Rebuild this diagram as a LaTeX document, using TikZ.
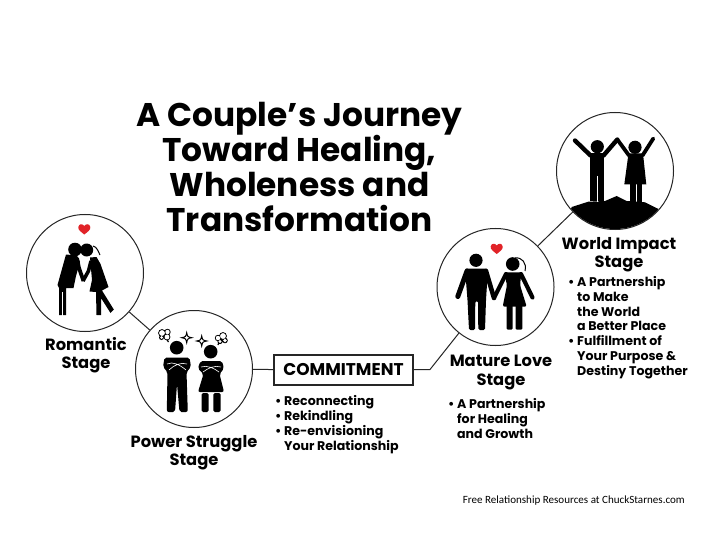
\documentclass[tikz,border=0pt]{standalone}
\usepackage{fontspec}
\setmainfont{Poppins}
\newfontfamily\calib{Carlito}
\definecolor{hrt}{RGB}{225,35,40}
\tikzset{
 ring/.style={circle,draw=black!85,line width=1pt,minimum size=117pt,inner sep=0pt,fill=white},
 link/.style={draw=black!85,line width=1pt},
 stage/.style={font=\fontsize{16.3}{18.2}\selectfont\bfseries,align=center,inner sep=0pt},
 bul/.style={font=\fontsize{12.6}{14.9}\selectfont\bfseries,align=left,inner sep=0pt,anchor=north west},
 limb/.style={line width=#1,line cap=round,line join=round,draw=black},
 limb/.default=4.6pt,
 crease/.style={draw=white,line width=.6pt},
 sketch/.style={draw=black,line width=1pt,fill=white},
}
\newcommand{\hrtshape}[2]{\fill[hrt] (#1,#2+5.5) .. controls (#1-3,#2+3) and (#1-6.5,#2+1) .. (#1-6,#2-2) .. controls (#1-5.5,#2-5.5) and (#1-1.5,#2-5.5) .. (#1,#2-3) .. controls (#1+1.5,#2-5.5) and (#1+5.5,#2-5.5) .. (#1+6,#2-2) .. controls (#1+6.5,#2+1) and (#1+3,#2+3) .. (#1,#2+5.5) -- cycle;}
\newcommand{\sparkle}[3]{\draw[sketch] (#1,#2-#3) .. controls (#1+.8,#2-1) and (#1+1,#2-.8) .. (#1+#3,#2) .. controls (#1+1,#2+.8) and (#1+.8,#2+1) .. (#1,#2+#3) .. controls (#1-.8,#2+1) and (#1-1,#2+.8) .. (#1-#3,#2) .. controls (#1-1,#2-.8) and (#1-.8,#2-1) .. (#1,#2-#3) -- cycle;}
\begin{document}
\begin{tikzpicture}[x=1pt,y=-1pt]
\useasboundingbox (0,0) rectangle (720,540);
\fill[white] (0,0) rectangle (720,540);
\node[ring] (rom) at (85,273) {};
\node[ring] (pow) at (194,369) {};
\node[ring] (mat) at (495.5,287) {};
\node[ring] (wor) at (615,171) {};
\node[draw=black!85,line width=1.2pt,minimum width=139pt,minimum height=30pt,inner sep=0pt,font=\fontsize{17}{18}\selectfont\bfseries] (com) at (343.5,370) {\raisebox{-1.2pt}{COMMITMENT}};
\coordinate (bend) at (430,369.5);
\draw[link] (rom) -- (pow);
\draw[link] (pow) -- (com);
\draw[link] (com) -- (bend) -- (mat);
\draw[link] (mat) -- (wor);
\node[align=center,inner sep=0pt,font=\fontsize{32.8}{35.2}\selectfont\bfseries] (title) at (299.5,167) {A Couple’s Journey\\Toward Healing,\\Wholeness and\\Transformation};
\node[stage] (t1) at (86,355.5) {Romantic\\Stage};
\node[stage] (t2) at (194,453) {Power Struggle\\Stage};
\node[stage] (t3) at (501,372.5) {Mature Love\\Stage};
\node[stage] (t4) at (619,254.5) {World Impact\\Stage};
\node[bul] (b1) at (275,395.5) {• Reconnecting\\• Rekindling\\• Re-envisioning\\\phantom{• }Your Relationship};
\node[bul] (b2) at (448,398) {• A Partnership\\\phantom{• }for Healing\\\phantom{• }and Growth};
\node[bul] (b3) at (568,276) {• A Partnership\\\phantom{• }to Make\\\phantom{• }the World\\\phantom{• }a Better Place\\• Fulfillment of\\\phantom{• }Your Purpose \&\\\phantom{• }Destiny Together};
\node[anchor=east,inner sep=0pt,font=\calib\fontsize{11.05}{12}\selectfont] (foot) at (685,501) {Free Relationship Resources at ChuckStarnes.com};
% ---------- Romantic couple
\hrtshape{84.3}{229}
\fill (75,249.5) circle (6.8); \fill (86.7,250) circle (6.5);
\draw[line width=1pt] (93,246) .. controls (97,247) and (98,251) .. (100,255);
% man
\fill (66,254.5) -- (77,255.5) -- (80,262) -- (76,276) -- (73.5,288) -- (66,288) -- (66,315) -- (59,315) -- (59,288) -- (57.5,285) -- cycle;
\draw[white,line width=.5pt] (62.5,292) -- (62.5,316);
\draw[limb=3.8pt,line cap=butt] (77,258) -- (79,268) -- (83.5,281);
% woman
\fill (90,257.5) -- (96.5,257) -- (100.5,264) -- (108.5,287) -- (102,290.5) -- (113.8,309.5) -- (110.5,313) -- (101,298) -- (101,315) -- (96.5,315) -- (96,292) -- (89.5,291.5) -- (92,280) -- cycle;
\draw[limb=3.6pt,line cap=butt] (91,261) -- (88.5,271) -- (83,281);
% ---------- Power struggle couple
\fill[black] (162,333) circle (3.9) (167.5,332) circle (3.2) (167,337) circle (3.4) (161.5,337.5) circle (2.5);
\draw[line width=1.2pt] (166,338) -- (168.5,342);
\fill[white] (162,333) circle (2.9) (167.5,332) circle (2.2) (167,337) circle (2.4) (161.5,337.5) circle (1.5);
\fill[black] (223,336) circle (3.9) (218,338) circle (3.2) (225,340.5) circle (2.8) (220,341.5) circle (2.6);
\draw[line width=1.2pt] (219.5,341) -- (218,345);
\fill[white] (223,336) circle (2.9) (218,338) circle (2.2) (225,340.5) circle (1.8) (220,341.5) circle (1.6);
\sparkle{186.7}{337.7}{5}
\sparkle{201.7}{341}{5}
\fill (176.7,347.7) circle (6.8);
\fill (210.7,351.7) circle (6.8);
\fill[rounded corners=2pt] (164.5,357.5) -- (189.5,357.5) -- (191,367) -- (186.5,372) -- (187.8,412) -- (179.5,412) -- (177,384) -- (175,412) -- (166.8,412) -- (167.5,372) -- (163,367) -- cycle;
\fill[rounded corners=2pt] (200.5,361) -- (222,361) -- (224,368.5) -- (219.5,374) -- (224,392) -- (198,392) -- (203.5,374) -- (197.8,368.5) -- cycle;
\fill[rounded corners=1.5pt] (201.5,393) rectangle (208.5,412);
\fill[rounded corners=1.5pt] (213.3,393) rectangle (220.7,412);
\draw[crease] (167,364) .. controls (173,361) and (180,365) .. (186,370) (187,364) .. controls (181,362) and (174,365) .. (169,370);
\draw[crease] (201,367) .. controls (207,365) and (214,368) .. (219,372) (221,367) .. controls (215,365) and (208,368) .. (203,372);
% ---------- Mature love couple
\hrtshape{496.7}{248.5}
\fill (476,260.3) circle (6.6);
\fill (512.7,264) circle (6.8);
\draw[line width=1pt] (515,258) .. controls (522,257) and (527,263) .. (525,271);
\fill[rounded corners=1.5pt] (465,268.5) -- (488,268.5) -- (486,300) -- (485,330) -- (478.3,330) -- (478,301) -- (475.3,301) -- (475,330) -- (469,330) -- (467.5,300) -- cycle;
\draw[limb=5pt] (467,271) -- (457.8,296.5);
\draw[limb=4.6pt] (486,271) -- (494,298);
\fill[rounded corners=2pt] (504,272.3) -- (521.5,272.3) -- (520,285) -- (526.7,306.7) -- (502.7,306.7) -- (507,285) -- cycle;
\draw[limb=4.2pt] (506,274) -- (494,298);
\draw[limb=4.2pt] (521,274) -- (532.5,297.5);
\fill[rounded corners=1pt] (506.7,305) rectangle (512.7,329.5);
\fill[rounded corners=1pt] (515.7,305) rectangle (522.3,329.5);
% ---------- World couple and hill
\begin{scope}
\clip (615,171) circle (58);
\fill (571.7,207) -- (588.3,201.7) -- (605,201) -- (616.7,196) -- (626.7,201) -- (645,202.3) -- (658.5,209) -- (670,240) -- (560,240) -- cycle;
\end{scope}
\fill (597.3,146.7) circle (6.6);
\fill (635,147.3) circle (6.6);
\draw[limb=4.4pt] (575,140.5) -- (590.5,155.5);
\draw[limb=4.4pt] (603.5,155.5) -- (617.3,139.5);
\draw[limb=3.8pt] (617.3,139.5) -- (629,155.5);
\draw[limb=3.8pt] (642.5,155.5) -- (653.3,138.5);
\fill (590,153.5) -- (604.3,153.5) -- (604.3,201) -- (590,201) -- cycle;
\draw[white,line width=.7pt] (597.3,176) -- (597.3,202);
\fill (628.5,153.5) -- (643,153.5) -- (646.3,184.5) -- (624.3,184.5) -- cycle;
\fill (630,184) rectangle (635.7,202);
\fill (637.3,184) rectangle (642,202);
\end{tikzpicture}
\end{document}
